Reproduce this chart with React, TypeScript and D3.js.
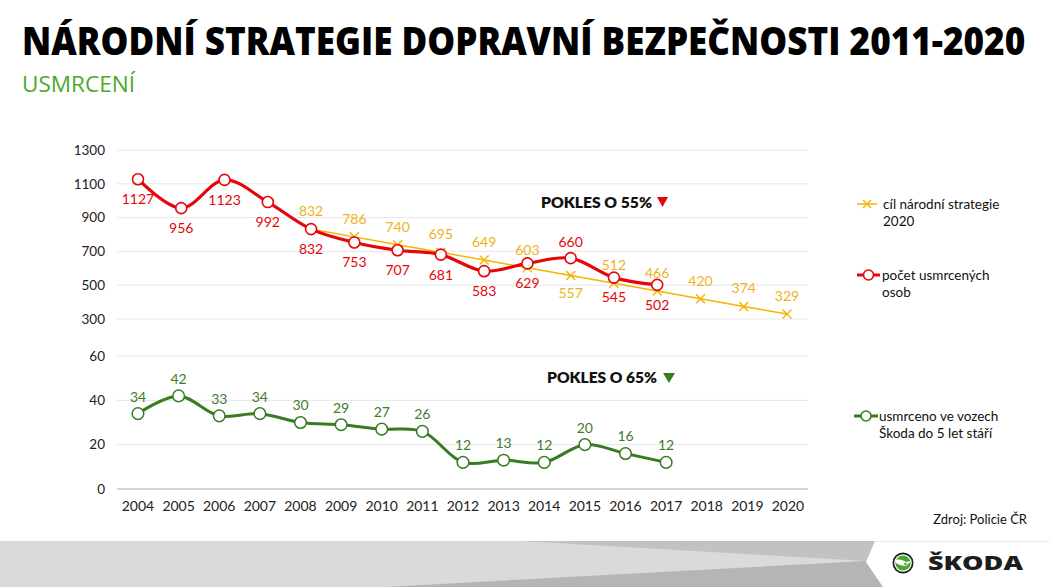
import React, { useLayoutEffect, useRef, useState } from 'react';
import * as d3 from 'd3';

// ---- data ----
const axisYears = ['2004','2005','2006','2007','2008','2009','2010','2011','2012','2013','2014','2015','2016','2017','2018','2019','2020'];
const upperYears = ['2005','2006','2007','2008','2009','2010','2011','2012','2013','2014','2015','2016','2017','2018','2019','2020'];
const deathsYears = ['2005','2006','2007','2008','2009','2010','2011','2012','2013','2014','2015','2016','2017'];
const deaths = [1127, 956, 1123, 992, 832, 753, 707, 681, 583, 629, 660, 545, 502];
const targetYears = ['2009','2010','2011','2012','2013','2014','2015','2016','2017','2018','2019','2020'];
const target = [832, 786, 740, 695, 649, 603, 557, 512, 466, 420, 374, 329];
const skodaYears = ['2004','2005','2006','2007','2008','2009','2010','2011','2012','2013','2014','2015','2016','2017'];
const skoda = [34, 42, 33, 34, 30, 29, 27, 26, 12, 13, 12, 20, 16, 12];
const upperTicks = [300, 500, 700, 900, 1100, 1300];
const lowerTicks = [0, 20, 40, 60];

const TITLE = 'NÁRODNÍ STRATEGIE DOPRAVNÍ BEZPEČNOSTI 2011-2020';
const RED = '#e3060b';
const YEL = '#f4b400';
const YEL_T = '#eeb21c';
const GRN = '#377c20';
const GRN_T = '#3f7c2b';
const SUB_G = '#4ba82e';
const FONT = 'Lato, "Open Sans", sans-serif';

export default function App() {
  const titleRef = useRef<SVGTextElement>(null);
  const [titleScale, setTitleScale] = useState(0.9);
  useLayoutEffect(() => {
    if (titleRef.current) {
      const w = titleRef.current.getComputedTextLength();
      if (w > 0) setTitleScale(1003 / w);
    }
  }, []);

  const xUp = d3.scalePoint<string>().domain(upperYears).range([138, 787]);
  const xLo = d3.scalePoint<string>().domain(axisYears).range([138, 788]);
  const yUp = d3.scaleLinear().domain([300, 1300]).range([319, 150]);
  const yLo = d3.scaleLinear().domain([0, 60]).range([489, 356]);
  const gx0 = 117, gx1 = 808;

  const smooth = d3.line<[number, number]>().curve(d3.curveCatmullRom.alpha(0.5));
  const straight = d3.line<[number, number]>();

  const redPts: [number, number][] = deaths.map((v, i) => [xUp(deathsYears[i])!, yUp(v)]);
  const yelPts: [number, number][] = target.map((v, i) => [xUp(targetYears[i])!, yUp(v)]);
  const grnPts: [number, number][] = skoda.map((v, i) => [xLo(skodaYears[i])!, yLo(v)]);

  const redAbove = new Set(['2015']);
  const yelBelow = new Set(['2015']);

  const cross = (x: number, y: number, s: number, key: any) => (
    <path key={key} d={`M${x - s},${y - s}L${x + s},${y + s}M${x - s},${y + s}L${x + s},${y - s}`} stroke={YEL} strokeWidth={1.4} fill="none" />
  );

  return (
    <svg width={1050} height={587} style={{ position: 'absolute', left: 0, top: 0, background: '#fff' }} fontFamily={FONT}>
      <rect x={0} y={0} width={1050} height={587} fill="#fff" />
      {/* title */}
      <g transform={`translate(22,55) scale(${titleScale},1)`}>
        <text ref={titleRef} x={0} y={0} fontSize={38} fontWeight={800} fill="#000" fontFamily='"Open Sans", sans-serif'>{TITLE}</text>
      </g>
      <text x={22} y={92} fontSize={22} fill={SUB_G} textLength={113} lengthAdjust="spacingAndGlyphs" fontFamily='"Open Sans", sans-serif'>USMRCENÍ</text>

      {/* upper grid */}
      {upperTicks.map(t => (
        <g key={'u' + t}>
          <line x1={gx0} x2={gx1} y1={yUp(t)} y2={yUp(t)} stroke="#e6e6e6" strokeWidth={1} />
          <text x={105} y={yUp(t)} dy="0.35em" textAnchor="end" fontSize={13.5} fill="#222">{t}</text>
        </g>
      ))}
      {/* lower grid */}
      {lowerTicks.map(t => (
        <g key={'l' + t}>
          <line x1={gx0} x2={gx1} y1={yLo(t)} y2={yLo(t)} stroke={t === 0 ? '#a6a6a6' : '#e6e6e6'} strokeWidth={1} />
          <text x={105} y={yLo(t)} dy="0.35em" textAnchor="end" fontSize={13.5} fill="#222">{t}</text>
        </g>
      ))}
      {axisYears.map(y => (
        <text key={'x' + y} x={xLo(y)} y={506} dy="0.35em" textAnchor="middle" fontSize={14} fill="#222">{y}</text>
      ))}

      {/* target line */}
      <path d={straight(yelPts)!} stroke={YEL} strokeWidth={1.5} fill="none" />
      {yelPts.map((p, i) => (i === 0 ? null : cross(p[0], p[1], 4.5, 'yc' + i)))}

      {/* red line */}
      <path d={smooth(redPts)!} stroke={RED} strokeWidth={3.2} fill="none" />
      {redPts.map((p, i) => (
        <circle key={'rc' + i} cx={p[0]} cy={p[1]} r={5.5} fill="#fff" stroke={RED} strokeWidth={1.6} />
      ))}
      {redPts.map((p, i) => (
        <text key={'rl' + i} x={p[0]} y={p[1] + (redAbove.has(deathsYears[i]) ? -16 : 20)} dy="0.35em" textAnchor="middle" fontSize={14} fill={RED}>{deaths[i]}</text>
      ))}
      {yelPts.map((p, i) => (
        <text key={'yl' + i} x={p[0]} y={p[1] + (yelBelow.has(targetYears[i]) ? 18 : -18)} dy="0.35em" textAnchor="middle" fontSize={14} fill={YEL_T}>{target[i]}</text>
      ))}

      {/* green line */}
      <path d={smooth(grnPts)!} stroke={GRN} strokeWidth={3} fill="none" />
      {grnPts.map((p, i) => (
        <circle key={'gc' + i} cx={p[0]} cy={p[1]} r={5.8} fill="#fff" stroke={GRN} strokeWidth={1.5} />
      ))}
      {grnPts.map((p, i) => (
        <text key={'gl' + i} x={p[0]} y={p[1] - 17} dy="0.35em" textAnchor="middle" fontSize={14} fill={GRN_T}>{skoda[i]}</text>
      ))}

      {/* annotations */}
      <text x={541} y={203} dy="0.35em" fontSize={15} fontWeight={800} fill="#111" textLength={111} lengthAdjust="spacingAndGlyphs">POKLES O 55%</text>
      <path d="M657,197L668,197L662.5,207Z" fill={RED} />
      <text x={547} y={378} dy="0.35em" fontSize={15} fontWeight={800} fill="#111" textLength={110} lengthAdjust="spacingAndGlyphs">POKLES O 65%</text>
      <path d="M663,373L675,373L669,383Z" fill={GRN} />

      {/* legend */}
      <line x1={857} x2={877} y1={204} y2={204} stroke={YEL} strokeWidth={1.5} />
      {cross(867, 204, 4, 'lgx')}
      <text x={883} y={204} dy="0.35em" fontSize={13.5} fill="#111">cíl národní strategie</text>
      <text x={883} y={221} dy="0.35em" fontSize={13.5} fill="#111">2020</text>

      <line x1={857} x2={880} y1={275} y2={275} stroke={RED} strokeWidth={3} />
      <circle cx={868.5} cy={275} r={5} fill="#fff" stroke={RED} strokeWidth={1.6} />
      <text x={882} y={275} dy="0.35em" fontSize={13.5} fill="#111">počet usmrcených</text>
      <text x={882} y={292} dy="0.35em" fontSize={13.5} fill="#111">osob</text>

      <line x1={854} x2={878} y1={416} y2={416} stroke={GRN} strokeWidth={3} />
      <circle cx={866} cy={416} r={5} fill="#fff" stroke={GRN} strokeWidth={1.6} />
      <text x={879} y={416} dy="0.35em" fontSize={13.5} fill="#111">usmrceno ve vozech</text>
      <text x={879} y={433} dy="0.35em" fontSize={13.5} fill="#111">Škoda do 5 let stáří</text>

      <text x={1027} y={519} dy="0.35em" textAnchor="end" fontSize={13} fill="#111">Zdroj: Policie ČR</text>

      {/* footer band */}
      <rect x={0} y={541} width={880} height={46} fill="#dadada" />
      <path d="M520,541L880,541L866,561Z" fill="#c2c2c2" />
      <path d="M385,587L866,561L884,587Z" fill="#b5b5b5" />
      <path d="M875,541L1050,541L1050,587L883,587L866,562Z" fill="#fff" />
      <line x1={875} x2={1050} y1={541.5} y2={541.5} stroke="#ececec" strokeWidth={1} />

      {/* logo */}
      <circle cx={903} cy={563} r={10.5} fill="#1d1d1b" />
      <circle cx={903} cy={563} r={8.8} fill="#fff" />
      <circle cx={903} cy={563} r={7.6} fill={SUB_G} />
      <path d="M896,560C899,559 903,560 906,562L911,561L906,566C903,566 899,565 896,563Z" fill="#fff" />
      <circle cx={905.5} cy={564} r={1.3} fill={SUB_G} />
      <text x={928} y={563} dy="0.36em" fontSize={20} fontWeight={800} fill="#1d1d1b" textLength={95} lengthAdjust="spacingAndGlyphs" fontFamily='"Open Sans", sans-serif'>ŠKODA</text>
    </svg>
  );
}
